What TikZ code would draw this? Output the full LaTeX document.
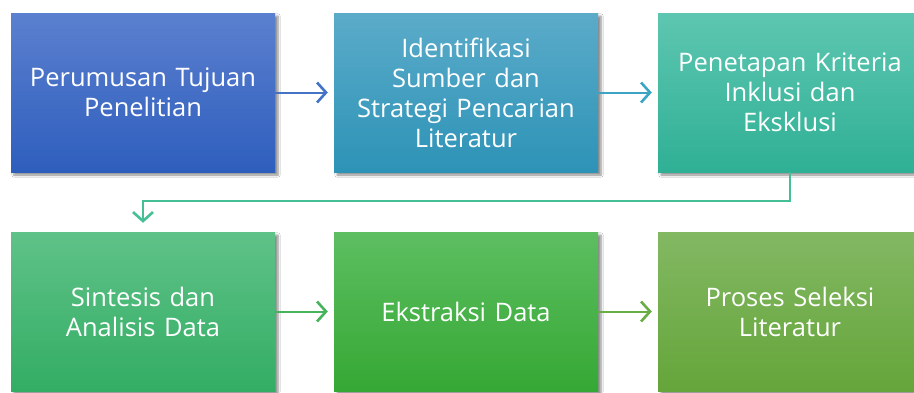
\documentclass[tikz,border=0pt]{standalone}
\usepackage{fontspec}
\setmainfont{Open Sans}
\usetikzlibrary{arrows.meta,shadows.blur}
\definecolor{bAt}{HTML}{5B80CF}\definecolor{bAb}{HTML}{2E5EBD}
\definecolor{bBt}{HTML}{5BABC9}\definecolor{bBb}{HTML}{2D93B7}
\definecolor{bCt}{HTML}{5EC6B1}\definecolor{bCb}{HTML}{2FB095}
\definecolor{bDt}{HTML}{5FC288}\definecolor{bDb}{HTML}{33AD64}
\definecolor{bEt}{HTML}{5DBE61}\definecolor{bEb}{HTML}{35A834}
\definecolor{bFt}{HTML}{83B863}\definecolor{bFb}{HTML}{65A53A}
\definecolor{aA}{HTML}{4472C4}\definecolor{aB}{HTML}{3DA5C3}
\definecolor{aC}{HTML}{45BF96}\definecolor{aD}{HTML}{47B45C}
\definecolor{aE}{HTML}{69AE45}
\tikzset{
  stepbox/.style={minimum width=264pt,minimum height=159pt,inner sep=2pt,
    text width=255pt,align=center,text=white,
    font=\fontsize{25.5}{30}\selectfont,
    blur shadow={shadow xshift=3pt,shadow yshift=-3pt,shadow blur steps=6,shadow blur extra rounding=0pt,shadow opacity=45}},
  flowarrow/.style={line width=2pt,-{Straight Barb[length=9pt,width=20pt,line width=2.6pt]}}
}
\begin{document}
\begin{tikzpicture}[x=1pt,y=-1pt]
\useasboundingbox (0,0) rectangle (914,392);
\fill[white] (0,0) rectangle (914,392);
\node[stepbox,top color=bAt,bottom color=bAb] (b1) at (143,92.5) {Perumusan Tujuan\\Penelitian};
\node[stepbox,top color=bBt,bottom color=bBb] (b2) at (466,92.5) {Identifikasi\\Sumber dan\\Strategi Pencarian\\Literatur};
\node[stepbox,top color=bCt,bottom color=bCb] (b3) at (790,92.5) {Penetapan Kriteria\\Inklusi dan\\Eksklusi};
\node[stepbox,top color=bDt,bottom color=bDb] (b4) at (143,311.5) {Sintesis dan\\Analisis Data};
\node[stepbox,top color=bEt,bottom color=bEb] (b5) at (466,311.5) {Ekstraksi Data};
\node[stepbox,top color=bFt,bottom color=bFb] (b6) at (790,311.5) {Proses Seleksi\\Literatur};
\coordinate (turn) at (790,201);
\draw[flowarrow,aA,shorten >=6pt] (b1.east) -- (b2.west);
\draw[flowarrow,aB,shorten >=6pt] (b2.east) -- (b3.west);
\draw[flowarrow,aC,shorten >=9pt] (b3.south) -- (turn) -| (b4.north);
\draw[flowarrow,aD,shorten >=6pt] (b4.east) -- (b5.west);
\draw[flowarrow,aE,shorten >=6pt] (b5.east) -- (b6.west);
\end{tikzpicture}
\end{document}
